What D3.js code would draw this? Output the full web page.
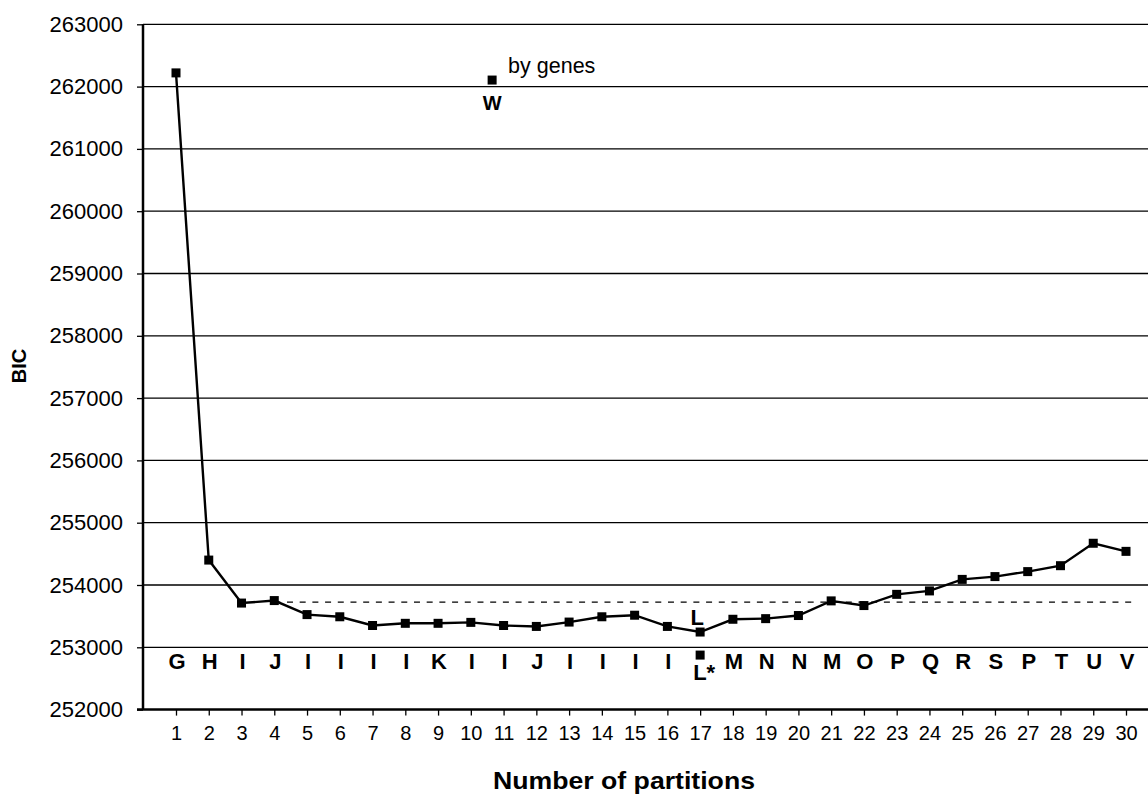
<!DOCTYPE html>
<html>
<head>
<meta charset="utf-8">
<script src="https://cdn.jsdelivr.net/npm/d3@7"></script>
<style>
  body { margin: 0; background: #fff; }
  svg { display: block; font-family: "Liberation Sans", Arial, Helvetica, sans-serif; }
</style>
</head>
<body>
<svg id="chart" width="1148" height="795"></svg>
<script>
// partitions on the x axis
var partitions = [1,2,3,4,5,6,7,8,9,10,11,12,13,14,15,16,17,18,19,20,21,22,23,24,25,26,27,28,29,30];
// BIC for each number of partitions
var bicValues = [262220, 254400, 253710, 253750, 253525, 253490, 253350, 253385, 253385, 253400,
                 253350, 253335, 253405, 253490, 253515, 253335, 253245, 253450, 253460, 253510,
                 253745, 253670, 253850, 253905, 254090, 254135, 254215, 254310, 254670, 254540];
// scheme letter under each point
var schemeLabels = ["G","H","I","J","I","I","I","I","K","I","I","J","I","I","I","I","","M","N","N",
                    "M","O","P","Q","R","S","P","T","U","V"];
var yTicks = [252000,253000,254000,255000,256000,257000,258000,259000,260000,261000,262000,263000];

// single points outside the series
var byGenes = { x: 10.65, value: 262105, label: "W", note: "by genes" };
var lStar = { x: 17, value: 252875, label: "L*" };
// dashed reference level
var refLevel = { value: 253725, from: 4, to: 30.2 };

var svg = d3.select("#chart"),
    width = +svg.attr("width"),
    height = +svg.attr("height");

var axisX0 = 143, axisY0 = 709.6;

var x = d3.scaleLinear().domain([1, 30]).range([176, 1126]);
var y = d3.scaleLinear().domain([252000, 263000]).range([709.6, 24.3]);

// gridlines
svg.append("g")
  .selectAll("line")
  .data(yTicks.slice(1))
  .enter().append("line")
    .attr("x1", axisX0).attr("x2", width)
    .attr("y1", function(d) { return y(d); })
    .attr("y2", function(d) { return y(d); })
    .attr("stroke", "#000")
    .attr("stroke-width", 1.3);

// y axis
var yAxis = svg.append("g")
  .attr("transform", "translate(" + axisX0 + ",0)")
  .call(d3.axisLeft(y).tickValues(yTicks).tickSize(6).tickPadding(14).tickFormat(d3.format("d")));
yAxis.select(".domain").attr("stroke-width", 2.5).attr("d", "M0," + y(263000) + "V" + axisY0);
yAxis.selectAll(".tick line").attr("stroke-width", 1.3);
yAxis.selectAll("text")
  .attr("font-size", 22)
  .attr("font-family", "Liberation Sans, Arial, sans-serif")
  .attr("fill", "#000");

// x axis
var xAxis = svg.append("g")
  .attr("transform", "translate(0," + axisY0 + ")")
  .call(d3.axisBottom(x).tickValues(partitions).tickSize(6).tickPadding(10).tickFormat(d3.format("d")));
xAxis.select(".domain").attr("stroke-width", 2.5).attr("d", "M" + (axisX0 - 6) + ",0H" + width);
xAxis.selectAll(".tick line").attr("stroke-width", 1.3);
xAxis.selectAll("text")
  .attr("font-size", 20)
  .attr("font-family", "Liberation Sans, Arial, sans-serif")
  .attr("fill", "#000");

// dashed reference line
svg.append("line")
  .attr("x1", x(refLevel.from)).attr("x2", x(refLevel.to))
  .attr("y1", y(refLevel.value)).attr("y2", y(refLevel.value))
  .attr("stroke", "#000")
  .attr("stroke-width", 1.3)
  .attr("stroke-dasharray", "6,6.7");

// BIC line
var line = d3.line()
  .x(function(d, i) { return x(partitions[i]); })
  .y(function(d) { return y(d); });

svg.append("path")
  .datum(bicValues)
  .attr("fill", "none")
  .attr("stroke", "#000")
  .attr("stroke-width", 2.4)
  .attr("d", line);

var m = 9; // marker size
svg.append("g")
  .selectAll("rect")
  .data(bicValues)
  .enter().append("rect")
    .attr("x", function(d, i) { return x(partitions[i]) - m / 2; })
    .attr("y", function(d) { return y(d) - m / 2; })
    .attr("width", m).attr("height", m)
    .attr("fill", "#000");

[byGenes, lStar].forEach(function(p) {
  svg.append("rect")
    .attr("x", x(p.x) - m / 2).attr("y", y(p.value) - m / 2)
    .attr("width", m).attr("height", m)
    .attr("fill", "#000");
});

// scheme letters
svg.append("g")
  .selectAll("text")
  .data(schemeLabels)
  .enter().append("text")
    .attr("x", function(d, i) { return x(partitions[i]) + 1; })
    .attr("y", 669)
    .attr("text-anchor", "middle")
    .attr("font-size", 22)
    .attr("font-weight", "bold")
    .text(function(d) { return d; });

// L above the minimum
svg.append("text")
  .attr("x", x(17) - 3).attr("y", 625)
  .attr("text-anchor", "middle")
  .attr("font-size", 22).attr("font-weight", "bold")
  .text("L");

svg.append("text")
  .attr("x", x(lStar.x) - 7).attr("y", 680)
  .attr("font-size", 22).attr("font-weight", "bold")
  .text(lStar.label);

svg.append("text")
  .attr("x", x(byGenes.x)).attr("y", 110)
  .attr("text-anchor", "middle")
  .attr("font-size", 20).attr("font-weight", "bold")
  .text(byGenes.label);

svg.append("text")
  .attr("x", x(byGenes.x) + 16).attr("y", 73)
  .attr("font-size", 21.5)
  .text(byGenes.note);

// axis titles
svg.append("text")
  .attr("transform", "translate(26,366) rotate(-90)")
  .attr("text-anchor", "middle")
  .attr("font-size", 20).attr("font-weight", "bold")
  .text("BIC");

svg.append("text")
  .attr("x", 624).attr("y", 789)
  .attr("text-anchor", "middle")
  .attr("font-size", 24).attr("font-weight", "bold")
  .attr("textLength", 262).attr("lengthAdjust", "spacingAndGlyphs")
  .text("Number of partitions");
</script>
</body>
</html>
